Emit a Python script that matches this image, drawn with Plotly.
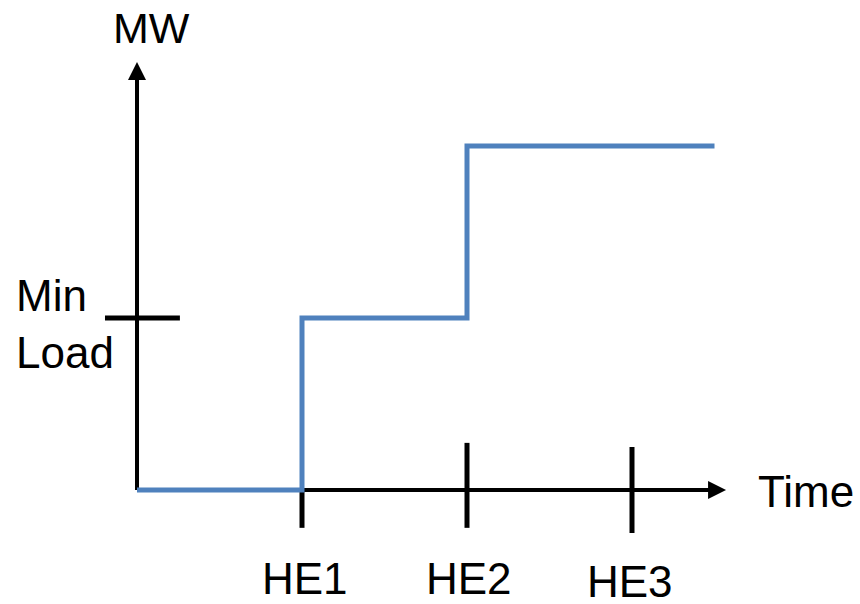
import plotly.graph_objects as go

# ---- data ----
time_hours = [0, 1, 2, 3.5]          # step-change instants (hours)
mw_values = [0, 50, 100, 100]        # MW output after each step
min_load = 50
tick_hours = [1, 2, 3]
tick_labels = ["HE1", "HE2", "HE3"]

# ---- geometry / styling ----
W, H = 860, 604
X0_PX, X_SCALE = 137, 165.0    # pixel of x=0, pixels per hour
Y0_PX, Y_SCALE = 490, 3.44     # pixel of y=0, pixels per MW
x_range = [-X0_PX / X_SCALE, (W - X0_PX) / X_SCALE]
y_range = [-(H - Y0_PX) / Y_SCALE, Y0_PX / Y_SCALE]
x_arrow_tip = 3.57
y_arrow_tip = 124.4
FONT = "Liberation Sans, Arial, sans-serif"
BLUE = "#4f81bd"

fig = go.Figure()

# axis lines (below the blue step line)
shapes = [
    dict(type="line", xref="x", yref="y", x0=0, y0=0, x1=x_arrow_tip - 0.08, y1=0,
         line=dict(color="black", width=4), layer="below"),
    dict(type="line", xref="x", yref="y", x0=0, y0=0, x1=0, y1=y_arrow_tip - 4,
         line=dict(color="black", width=4), layer="below"),
    # min load tick
    dict(type="line", xref="x", yref="y", x0=-0.194, y0=min_load, x1=0.26, y1=min_load,
         line=dict(color="black", width=5), layer="below"),
]
tick_extents = [(0, -11), (13.7, -11), (12.5, -12.5)]
for h, (top, bot) in zip(tick_hours, tick_extents):
    shapes.append(dict(type="line", xref="x", yref="y", x0=h, y0=top, x1=h, y1=bot,
                       line=dict(color="black", width=5), layer="below"))

fig.add_trace(go.Scatter(
    x=time_hours, y=mw_values, mode="lines",
    line=dict(color=BLUE, width=5, shape="hv"),
    hoverinfo="skip", showlegend=False,
))

annotations = [
    # arrow heads
    dict(x=x_arrow_tip, y=0, ax=x_arrow_tip - 0.3, ay=0, xref="x", yref="y",
         axref="x", ayref="y", showarrow=True, arrowhead=2, arrowsize=1.2,
         arrowwidth=3, arrowcolor="black", text=""),
    dict(x=0, y=y_arrow_tip, ax=0, ay=y_arrow_tip - 15, xref="x", yref="y",
         axref="x", ayref="y", showarrow=True, arrowhead=2, arrowsize=1.2,
         arrowwidth=3, arrowcolor="black", text=""),
    # texts
    dict(x=0.085, y=134.3, text="MW", showarrow=False, xanchor="center", yanchor="middle",
         font=dict(family=FONT, size=43, color="black")),
    dict(x=-0.745, y=56.4, text="Min", showarrow=False, xanchor="left", yanchor="middle",
         font=dict(family=FONT, size=44, color="black")),
    dict(x=-0.745, y=40.1, text="Load", showarrow=False, xanchor="left", yanchor="middle",
         font=dict(family=FONT, size=44, color="black")),
    dict(x=4.055, y=-0.3, text="Time", showarrow=False, xanchor="center", yanchor="middle",
         font=dict(family=FONT, size=44, color="black")),
]
label_offsets = [(0.02, -25.6), (0.01, -25.6), (-0.01, -26.5)]
for h, lab, (dx, yy) in zip(tick_hours, tick_labels, label_offsets):
    annotations.append(dict(x=h + dx, y=yy, text=lab, showarrow=False,
                            xanchor="center", yanchor="middle",
                            font=dict(family=FONT, size=44, color="black")))

fig.update_layout(
    width=W, height=H,
    margin=dict(l=0, r=0, t=0, b=0),
    paper_bgcolor="white", plot_bgcolor="white",
    xaxis=dict(range=x_range, visible=False, fixedrange=True),
    yaxis=dict(range=y_range, visible=False, fixedrange=True),
    shapes=shapes, annotations=annotations,
)

fig.write_html(
    "out.html",
    config={"displayModeBar": False},
    post_script="document.body.style.margin='0';document.body.style.overflow='hidden';",
)
